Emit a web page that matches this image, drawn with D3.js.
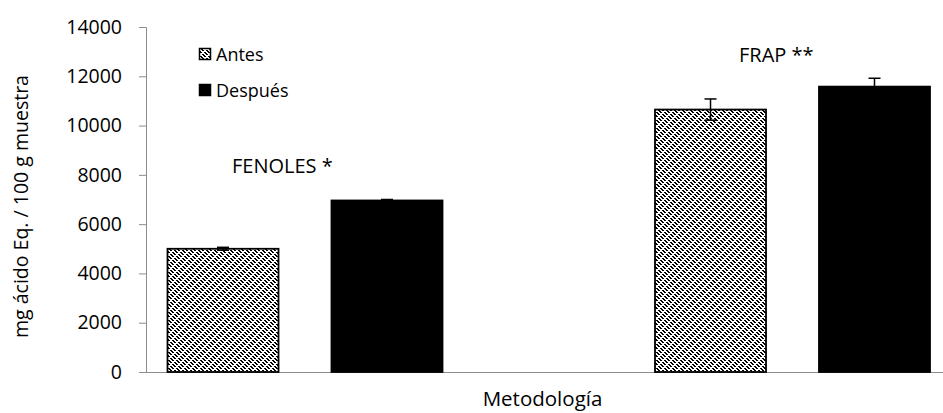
<!DOCTYPE html>
<html>
<head>
<meta charset="utf-8">
<script src="https://cdn.jsdelivr.net/npm/d3@7"></script>
<style>
  body { margin: 0; background: #fff; }
  text { font-family: "Open Sans", sans-serif; fill: #000; }
</style>
</head>
<body>
<svg id="chart" width="943" height="413"></svg>
<script>
// data
const categories = ["FENOLES", "FRAP"];
const series = ["Antes", "Después"];
const antes = [5000, 10650];
const despues = [6960, 11580];
const antesErr = [60, 430];
const despuesErr = [40, 340];
const notes = ["FENOLES *", "FRAP **"];
const yTicks = [0, 2000, 4000, 6000, 8000, 10000, 12000, 14000];

const svg = d3.select("#chart");
const plotL = 146, plotR = 943, plotT = 27, plotB = 372;

// dashed downward diagonal fill
const defs = svg.append("defs");
const pat = defs.append("pattern")
    .attr("id", "dashDn")
    .attr("patternUnits", "userSpaceOnUse")
    .attr("width", 8).attr("height", 8);
pat.append("rect").attr("width", 8).attr("height", 8).attr("fill", "#fff");
for (let r = 0; r < 8; r++) {
  [0, 4].forEach(k => {
    if ((k === 0 && r % 4 === 3) || (k === 4 && r % 4 === 1)) return;
    [0, 1].forEach(t => {
      pat.append("rect")
          .attr("x", (r + k + t) % 8).attr("y", r)
          .attr("width", 1).attr("height", 1).attr("fill", "#000");
    });
  });
}

const fills = { "Antes": "url(#dashDn)", "Después": "#000" };

const x0 = d3.scalePoint().domain(categories).range([305, 792.5]);
const x1 = d3.scaleBand().domain(series).range([-137.5, 137.5]).paddingInner(0.323);
const y = d3.scaleLinear().domain([0, 14000]).range([plotB, plotT]);

// y axis
const yAxis = svg.append("g")
    .attr("transform", `translate(${plotL},0)`)
    .call(d3.axisLeft(y).tickValues(yTicks).tickSize(7).tickPadding(17).tickFormat(d3.format("d")));
yAxis.select(".domain").attr("stroke", "#8c8c8c");
yAxis.selectAll(".tick line").attr("stroke", "#8c8c8c");
yAxis.selectAll(".tick text").style("font-size", "19.5px").attr("fill", "#000");

// x axis line
svg.append("line")
    .attr("x1", plotL - 7).attr("x2", plotR)
    .attr("y1", plotB + 0.5).attr("y2", plotB + 0.5)
    .attr("stroke", "#8c8c8c");

const rows = categories.map((c, i) => [
  { cat: c, s: "Antes", v: antes[i], e: antesErr[i] },
  { cat: c, s: "Después", v: despues[i], e: despuesErr[i] }
]).flat();

const g = svg.append("g");
g.selectAll("rect.bar").data(rows).join("rect")
    .attr("class", "bar")
    .attr("x", d => x0(d.cat) + x1(d.s))
    .attr("y", d => y(d.v))
    .attr("width", x1.bandwidth())
    .attr("height", d => y(0) - y(d.v))
    .attr("fill", d => fills[d.s])
    .attr("stroke", "#000")
    .attr("stroke-width", 1.8);

// error bars
const cx = d => x0(d.cat) + x1(d.s) + x1.bandwidth() / 2;
const eb = g.selectAll("g.err").data(rows).join("g").attr("class", "err");
eb.append("line")
    .attr("x1", cx).attr("x2", cx)
    .attr("y1", d => y(d.v - d.e))
    .attr("y2", d => y(d.v + d.e))
    .attr("stroke", "#000").attr("stroke-width", 1.5);
eb.append("line")
    .attr("x1", d => cx(d) - 6).attr("x2", d => cx(d) + 6)
    .attr("y1", d => y(d.v + d.e)).attr("y2", d => y(d.v + d.e))
    .attr("stroke", "#000").attr("stroke-width", 1.5);
eb.append("line")
    .attr("x1", d => cx(d) - 6).attr("x2", d => cx(d) + 6)
    .attr("y1", d => y(d.v - d.e)).attr("y2", d => y(d.v - d.e))
    .attr("stroke", "#000").attr("stroke-width", 1.5);

// annotations above the groups
svg.append("text").attr("x", 232).attr("y", 173).style("font-size", "20px").text(notes[0]);
svg.append("text").attr("x", 739).attr("y", 62).style("font-size", "20px").text(notes[1]);

// legend
const leg = svg.append("g");
series.forEach((s, i) => {
  const ly = 48 + i * 36;
  leg.append("rect").attr("x", 199.5).attr("y", ly + 0.5).attr("width", 11).attr("height", 11)
      .attr("fill", fills[s]).attr("stroke", "#000").attr("stroke-width", 1.5);
  leg.append("text").attr("x", 216).attr("y", ly + 12.5).style("font-size", "18px").text(s);
});

// axis titles
svg.append("text")
    .attr("x", (plotL + plotR) / 2 - 2).attr("y", 406)
    .attr("text-anchor", "middle").style("font-size", "20.5px")
    .text("Metodología");
svg.append("text")
    .attr("transform", `translate(28,${(plotT + plotB) / 2 + 7}) rotate(-90)`)
    .attr("text-anchor", "middle").style("font-size", "19.5px")
    .text("mg ácido Eq. / 100 g muestra");
</script>
</body>
</html>
